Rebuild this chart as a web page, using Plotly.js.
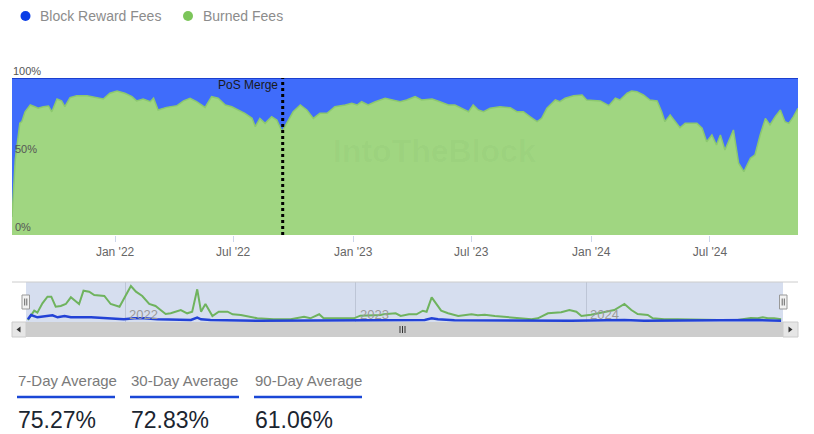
<!DOCTYPE html>
<html>
<head>
<meta charset="utf-8">
<script src="https://cdn.plot.ly/plotly-3.0.1.min.js"></script>
<style>
  html, body { margin: 0; padding: 0; background: #fff; }
  #chart { width: 814px; height: 434px; }
</style>
</head>
<body>
<div id="chart"></div>
<script>
// share of fees that were burned (%)
const shareDates = [
  '2021-07-27','2021-08-01','2021-08-08','2021-08-11','2021-08-16','2021-08-24','2021-08-31','2021-09-05','2021-09-13','2021-09-21',
  '2021-09-26','2021-10-04','2021-10-11','2021-10-16','2021-10-24','2021-11-03','2021-11-19','2021-12-06','2021-12-14','2021-12-24',
  '2022-01-04','2022-01-16','2022-01-27','2022-02-03','2022-02-13','2022-02-24','2022-03-01','2022-03-08','2022-03-21','2022-04-06',
  '2022-04-16','2022-04-26','2022-05-06','2022-05-19','2022-05-29','2022-06-08','2022-06-19','2022-06-29','2022-07-09','2022-07-19',
  '2022-07-30','2022-08-04','2022-08-11','2022-08-19','2022-08-29','2022-09-06','2022-09-14','2022-09-21','2022-10-01','2022-10-12',
  '2022-10-22','2022-11-01','2022-11-11','2022-11-22','2022-12-04','2022-12-20','2022-12-30',
  '2023-01-07','2023-01-14','2023-01-24','2023-02-04','2023-02-19','2023-03-01','2023-03-14','2023-03-24','2023-04-06','2023-04-16',
  '2023-05-02','2023-05-14','2023-05-27','2023-06-06','2023-06-17','2023-06-27','2023-07-04','2023-07-12','2023-07-20','2023-07-30',
  '2023-08-14','2023-08-30','2023-09-09','2023-09-19','2023-09-29','2023-10-10','2023-10-17','2023-10-25','2023-11-07','2023-11-14',
  '2023-11-22','2023-12-05','2023-12-18','2023-12-25',
  '2024-01-15','2024-01-28','2024-02-07','2024-02-14','2024-02-25','2024-03-03','2024-03-11','2024-03-21','2024-03-31','2024-04-11',
  '2024-04-18','2024-04-23','2024-05-01','2024-05-09','2024-05-16','2024-05-24','2024-06-11','2024-06-19','2024-06-26','2024-07-04',
  '2024-07-11','2024-07-17','2024-07-24','2024-08-06','2024-08-14','2024-08-22','2024-09-01','2024-09-08','2024-09-16','2024-09-24',
  '2024-10-01','2024-10-09','2024-10-17','2024-10-24','2024-10-30','2024-11-06','2024-11-13'
];
const burnedShare = [
  11.5, 48, 71.3, 72.2, 78.5, 82.8, 81.7, 80.7, 81.7, 82.2,
  78.5, 86.6, 85.4, 81.7, 87.5, 88.7, 88.7, 87.5, 86.6, 90.3,
  91.7, 90.3, 88.1, 85.4, 86.6, 84.9, 87.1, 79.6, 81.3, 82.4,
  85.4, 87.1, 84.9, 81.3, 88.1, 87.1, 82.8, 81.7, 79.6, 77.5,
  74.3, 69, 74.3, 71.1, 75.4, 73.2, 65.9, 71.1, 78.5, 82.8,
  79.6, 74.3, 77.5, 77.5, 81.7, 82.8, 83.9,
  82.8, 84.9, 82.8, 84.9, 87.1, 86, 84.9, 86, 88.1, 86,
  86.6, 84.9, 82.8, 82.8, 80.7, 78.5, 82.8, 79.6, 78.5, 80.7,
  81.7, 81.1, 78.5, 78.5, 75.4, 72.2, 74.3, 80.7, 86, 84.9,
  87.1, 88.7, 89.2, 86,
  85.4, 82.4, 87.1, 86, 90.3, 91.7, 91.3, 89.2, 86, 85.4,
  78.5, 72.2, 76.4, 72.2, 68.3, 71.1, 71.1, 68, 59.4, 63.7,
  57.3, 63.7, 54.1, 66.9, 45.7, 40.3, 48.9, 51, 63.7, 74.3,
  70.1, 75.4, 79.6, 72.2, 71.1, 75.4, 80.7
];
// the rest of each 100% column is block reward fees
const rewardShare = burnedShare.map(v => 100 - v);

// navigator series (relative fee amounts)
const navBurnDates = [
  '2021-07-31','2021-08-05','2021-08-10','2021-08-15','2021-08-23','2021-08-31','2021-09-06','2021-09-13','2021-09-21','2021-09-29','2021-10-07',
  '2021-10-20','2021-10-27','2021-11-05','2021-11-13','2021-11-29','2021-12-09','2021-12-23',
  '2022-01-10','2022-01-18','2022-01-28','2022-02-08','2022-02-18','2022-02-26','2022-03-06','2022-03-14','2022-03-30','2022-04-09',
  '2022-04-17','2022-04-25','2022-05-01','2022-05-08','2022-05-19','2022-05-29','2022-06-12','2022-06-20','2022-07-03','2022-07-29',
  '2022-08-24','2022-09-20','2022-10-11','2022-10-21','2022-11-04','2022-11-11','2022-12-02','2022-12-13','2022-12-29',
  '2023-01-08','2023-01-24','2023-02-09','2023-02-14','2023-02-25','2023-03-05','2023-03-13','2023-03-26',
  '2023-04-07','2023-04-17','2023-04-23','2023-05-01','2023-05-16','2023-05-27','2023-06-12','2023-06-27','2023-07-03','2023-07-13',
  '2023-07-24','2023-08-09','2023-08-24','2023-09-09','2023-10-06','2023-10-16','2023-11-01','2023-11-22','2023-12-05','2023-12-16',
  '2023-12-24','2024-01-08','2024-01-29','2024-02-14','2024-03-01','2024-03-12','2024-03-22','2024-04-07','2024-04-15','2024-05-03',
  '2024-05-24','2024-06-25','2024-07-27','2024-08-27','2024-09-17','2024-09-28','2024-10-06','2024-10-14','2024-10-24','2024-11-04'
];
const navBurnValues = [
  2, 7, 11.3, 9.3, 18.7, 25.3, 25.3, 15.3, 16, 18, 24.7,
  18, 31.3, 30.3, 27, 26, 18, 15.3,
  36, 30.3, 26, 18, 16, 12, 8, 8.7, 12, 8.7,
  10.3, 32.7, 10.3, 18, 6, 10.3, 10.3, 7.7, 7, 3.7,
  2.7, 2.7, 5.3, 3.7, 7.7, 3.7, 3.7, 4.3, 3.7,
  6.3, 6.3, 7, 7.7, 8, 8.7, 6, 7.7,
  7.7, 11.3, 10.3, 24.7, 11.3, 8.7, 6, 7, 7.7, 6.7,
  7.3, 6, 5.3, 4.3, 2.7, 3.7, 8.7, 9.7, 12, 10.3,
  6, 7.3, 10.3, 12, 18, 12, 8, 7, 3.7, 2.7,
  2.7, 2, 2, 2, 4, 3.7, 4.7, 3.7, 3.7, 2.7
];
const navRewardDates = [
  '2021-07-31','2021-08-05','2021-08-15','2021-08-26','2021-09-08','2021-09-16','2021-09-27','2021-10-07','2021-11-08','2021-12-30',
  '2022-01-15','2022-01-31','2022-02-21','2022-04-15','2022-04-25','2022-05-01','2022-05-16','2022-07-29',
  '2023-01-03','2023-04-20','2023-05-01','2023-05-11','2023-06-06','2023-08-24','2023-12-08',
  '2024-03-01','2024-04-01','2024-09-28','2024-11-04'
];
const navRewardValues = [
  2.7, 7, 4.7, 5.3, 6.7, 4.7, 6, 4.7, 4.7, 2.7,
  3.7, 3.7, 2.7, 2, 4.3, 2.7, 2, 1.3,
  1.7, 2, 3.7, 2.7, 1.7, 1.3, 1.3,
  2, 1.3, 2, 1.3
];
const navYears = ['2022-01-01', '2023-01-01', '2024-01-01'];
const navYearLabels = ['2022', '2023', '2024'];

const legendNames = ['Block Reward Fees', 'Burned Fees'];
const statLabels = ['7-Day Average', '30-Day Average', '90-Day Average'];
const statValues = ['75.27%', '72.83%', '61.06%'];
const mergeDate = '2022-09-15';

// pixel -> paper helpers (page is 814 x 434, no margins)
const W = 814, H = 434;
const fx = p => p / W;
const fy = p => 1 - p / H;
const FONT = 'Liberation Sans, Arial, sans-serif';

const traces = [
  {
    x: shareDates, y: burnedShare, name: legendNames[1],
    type: 'scatter', mode: 'lines', stackgroup: 'share',
    line: {color: '#8cc86f', width: 1.5}, fillcolor: '#a0d681',
    hoverinfo: 'skip', showlegend: false
  },
  {
    x: shareDates, y: rewardShare, name: legendNames[0],
    type: 'scatter', mode: 'lines', stackgroup: 'share',
    line: {color: '#1b3fcf', width: 2}, fillcolor: '#3f6cfb',
    hoverinfo: 'skip', showlegend: false
  },
  {
    x: navBurnDates, y: navBurnValues, xaxis: 'x2', yaxis: 'y2',
    type: 'scatter', mode: 'lines',
    line: {color: '#6fb35e', width: 2}, hoverinfo: 'skip', showlegend: false
  },
  {
    x: navRewardDates, y: navRewardValues, xaxis: 'x2', yaxis: 'y2',
    type: 'scatter', mode: 'lines',
    line: {color: '#2342d6', width: 2.5}, hoverinfo: 'skip', showlegend: false
  }
];

const rect = (x0, y0, x1, y1, fill, line, lw) => ({
  type: 'rect', xref: 'paper', yref: 'paper',
  x0: fx(x0), x1: fx(x1), y0: fy(y1), y1: fy(y0),
  fillcolor: fill, line: {color: line || fill, width: lw || 0}, layer: 'below'
});
const seg = (x0, y0, x1, y1, color, w, layer) => ({
  type: 'line', xref: 'paper', yref: 'paper',
  x0: fx(x0), x1: fx(x1), y0: fy(y0), y1: fy(y1),
  line: {color: color, width: w}, layer: layer || 'above'
});
const tri = pts => ({
  type: 'path', xref: 'paper', yref: 'paper',
  path: 'M' + pts.map(p => fx(p[0]) + ',' + fy(p[1])).join(' L') + ' Z',
  fillcolor: '#333', line: {width: 0}
});

const shapes = [
  // navigator background + outline
  rect(26, 282, 783, 322, '#d6deef'),
  seg(12, 282, 798, 282, '#cccccc', 1),
  // scrollbar
  rect(12, 322, 798, 337, '#f2f2f2'),
  {...rect(26, 322, 783, 337, '#cdcdcd'), layer: 'above'},
  {...rect(12, 322, 26, 337, '#e6e6e6', '#cccccc', 1), layer: 'above'},
  {...rect(783, 322, 798, 337, '#e6e6e6', '#cccccc', 1), layer: 'above'},
  tri([[20.5, 326.5], [16.5, 329.5], [20.5, 332.5]]),
  tri([[788.5, 326.5], [792.5, 329.5], [788.5, 332.5]]),
  seg(400, 326, 400, 333, '#333', 1),
  seg(402.5, 326, 402.5, 333, '#333', 1),
  seg(405, 326, 405, 333, '#333', 1),
  // navigator handles
  {...rect(22, 295, 29.5, 309, '#f2f2f2', '#999999', 1), layer: 'above'},
  seg(24.7, 298.5, 24.7, 305.5, '#666', 1),
  seg(26.8, 298.5, 26.8, 305.5, '#666', 1),
  {...rect(779.5, 295, 787, 309, '#f2f2f2', '#999999', 1), layer: 'above'},
  seg(782.2, 298.5, 782.2, 305.5, '#666', 1),
  seg(784.3, 298.5, 784.3, 305.5, '#666', 1),
  // PoS merge marker
  {
    type: 'line', xref: 'x', yref: 'paper', x0: mergeDate, x1: mergeDate,
    y0: fy(235), y1: fy(78), line: {color: '#000', width: 3, dash: 'dot'}
  },
  // legend dots
  {type: 'circle', xref: 'paper', yref: 'paper', x0: fx(20.5), x1: fx(30.5), y0: fy(21), y1: fy(11),
   fillcolor: '#0a3de6', line: {width: 0}},
  {type: 'circle', xref: 'paper', yref: 'paper', x0: fx(183), x1: fx(193), y0: fy(21), y1: fy(11),
   fillcolor: '#7cc55a', line: {width: 0}},
  // stat underlines
  seg(17, 397, 115, 397, '#1a47d6', 2.5),
  seg(130, 397, 239, 397, '#1a47d6', 2.5),
  seg(254, 397, 362, 397, '#1a47d6', 2.5)
];

const statX = [17, 130, 254];
const annotations = [
  {xref: 'paper', yref: 'paper', x: fx(38), y: fy(16), xanchor: 'left', yanchor: 'middle',
   text: legendNames[0], showarrow: false, font: {size: 14, color: '#8c8c8c'}},
  {xref: 'paper', yref: 'paper', x: fx(201), y: fy(16), xanchor: 'left', yanchor: 'middle',
   text: legendNames[1], showarrow: false, font: {size: 14, color: '#8c8c8c'}},
  {xref: 'x', yref: 'y', x: mergeDate, y: 100, xanchor: 'right', yanchor: 'top', xshift: -3, yshift: 2,
   text: 'PoS Merge', showarrow: false, font: {size: 12, color: '#1a1a1a'}},
  // top y label sits above the plot area
  {xref: 'paper', yref: 'paper', x: fx(11), y: fy(71), xanchor: 'left', yanchor: 'middle',
   text: '100%', showarrow: false, font: {size: 11, color: '#555'}},
  // faint watermark
  {xref: 'paper', yref: 'paper', x: fx(435), y: fy(151), xanchor: 'center', yanchor: 'middle',
   text: '<b>IntoTheBlock</b>', showarrow: false, font: {size: 32, color: 'rgba(60,100,40,0.035)'}}
];
navYears.forEach((d, i) => {
  annotations.push({xref: 'x2', yref: 'paper', x: d, y: fy(314), xanchor: 'left', yanchor: 'middle', xshift: 2,
    text: navYearLabels[i], showarrow: false, font: {size: 13, color: '#9a9a9a'}});
});
statLabels.forEach((lab, i) => {
  annotations.push({xref: 'paper', yref: 'paper', x: fx(statX[i] - 1), y: fy(380), xanchor: 'left', yanchor: 'middle',
    text: lab, showarrow: false, font: {size: 15, color: '#7a7a7a'}});
  annotations.push({xref: 'paper', yref: 'paper', x: fx(statX[i] - 1), y: fy(420), xanchor: 'left', yanchor: 'middle',
    text: statValues[i], showarrow: false, font: {size: 23, color: '#1b2530'}});
});

const layout = {
  width: W, height: H,
  margin: {l: 0, r: 0, t: 0, b: 0},
  paper_bgcolor: '#ffffff', plot_bgcolor: 'rgba(0,0,0,0)',
  font: {family: FONT, color: '#555'},
  showlegend: false,
  hovermode: false,
  xaxis: {
    domain: [fx(12), fx(798)], anchor: 'y', type: 'date',
    range: ['2021-07-27', '2024-11-13'],
    tick0: '2022-01-01', dtick: 'M6', tickformat: "%b '%y",
    ticks: 'outside', ticklen: 6, tickcolor: '#ccd6eb',
    tickfont: {size: 12, color: '#666'},
    showgrid: false, zeroline: false, showline: false, fixedrange: true
  },
  yaxis: {
    domain: [fy(235), fy(78)], anchor: 'x', range: [0, 100],
    tickvals: [0, 50], ticktext: ['0%', '50%'],
    ticklabelposition: 'inside top', tickfont: {size: 11, color: '#555'},
    showgrid: true, gridcolor: '#e6e6e6', zeroline: false, ticks: '', fixedrange: true
  },
  xaxis2: {
    domain: [fx(26), fx(783)], anchor: 'y2', type: 'date',
    range: ['2021-07-28', '2024-11-07'],
    tickvals: navYears, showticklabels: false,
    showgrid: true, gridcolor: '#bdc5d6', zeroline: false, ticks: '', fixedrange: true
  },
  yaxis2: {
    domain: [fy(322), fy(282)], anchor: 'x2', range: [0, 40],
    showgrid: false, zeroline: false, showticklabels: false, ticks: '', fixedrange: true
  },
  shapes: shapes,
  annotations: annotations
};

Plotly.newPlot('chart', traces, layout, {displayModeBar: false, staticPlot: true});
</script>
</body>
</html>
